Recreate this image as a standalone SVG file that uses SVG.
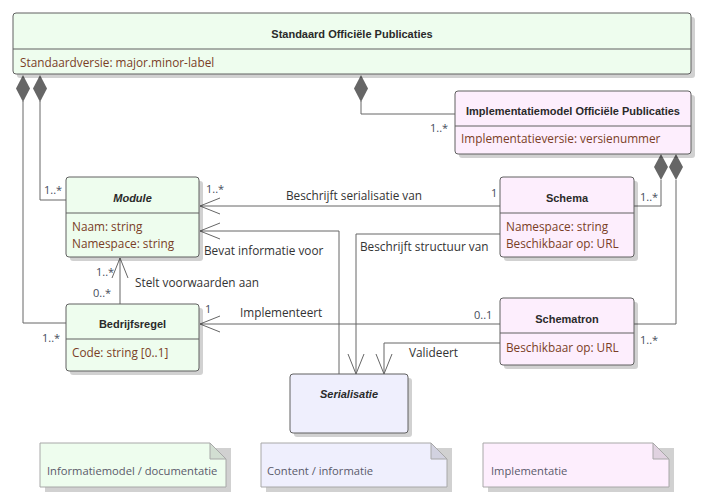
<svg xmlns="http://www.w3.org/2000/svg" width="710" height="502" viewBox="0 0 710 502">
<defs>
<style>
text{font-family:"Open Sans","Liberation Sans",Arial,sans-serif;font-size:11.8px}
.t{font-family:"Liberation Sans",Arial,sans-serif;font-size:11px;font-weight:bold;fill:#2a2a2a;text-anchor:middle}
.ti{font-family:"Liberation Sans",Arial,sans-serif;font-size:11px;font-weight:bold;font-style:italic;fill:#2a2a2a;text-anchor:middle}
.a{fill:#7a3e26}
.lb{fill:#333}
.m{fill:#454b5a;font-size:11px}
.nt{fill:#5a5a6a;font-size:11.2px}
.sh{fill:#000;opacity:0.18}
.box{stroke:#606060;stroke-width:1}
.g{fill:#eefdee}
.p{fill:#fdeefd}
.v{fill:#efeffd}
.div{stroke:#606060;stroke-width:1}
.c{fill:none;stroke:#666;stroke-width:1}
.dm{fill:#666;stroke:none}
.note{stroke:#a8a8a8;stroke-width:1}
</style>
<marker id="open" viewBox="-21 -9 22 18" refX="0" refY="0" markerWidth="22" markerHeight="18" markerUnits="userSpaceOnUse" orient="auto">
<path d="M-20,-8 L0,0 L-20,8" fill="none" stroke="#666" stroke-width="1"/>
</marker>
</defs>
<rect width="710" height="502" fill="#fff"/>

<g id="connectors">
<path class="c" d="M23,101 V323 H66"/>
<path class="c" d="M40,101 V200 H66"/>
<path class="c" d="M361,101 V114 H455"/>
<path class="c" d="M661,180 V206 H634"/>
<path class="c" d="M676,180 V324 H634"/>
<path class="dm" d="M23,75 L30,88.5 L23,102 L16,88.5 Z"/>
<path class="dm" d="M40,75 L47,88.5 L40,102 L33,88.5 Z"/>
<path class="dm" d="M361,75 L368,88.5 L361,102 L354,88.5 Z"/>
<path class="dm" d="M661,154 L668,167 L661,180 L654,167 Z"/>
<path class="dm" d="M676,154 L683,167 L676,180 L669,167 Z"/>
<path class="c" d="M500,206 H200" marker-end="url(#open)"/>
<path class="c" d="M339,374 V231 H200" marker-end="url(#open)"/>
<path class="c" d="M500,234 H356 V374" marker-end="url(#open)"/>
<path class="c" d="M500,324 H200" marker-end="url(#open)"/>
<path class="c" d="M500,343 H384 V374" marker-end="url(#open)"/>
<path class="c" d="M120,304 V258" marker-end="url(#open)"/>
<text class="lb" x="286" y="200">Beschrijft serialisatie van</text>
<text class="lb" x="204" y="255">Bevat informatie voor</text>
<text class="lb" x="360" y="251">Beschrijft structuur van</text>
<text class="lb" x="135" y="287">Stelt voorwaarden aan</text>
<text class="lb" x="240" y="317">Implementeert</text>
<text class="lb" x="409" y="357">Valideert</text>
<text class="m" x="491" y="197">1</text>
<text class="m" x="206" y="193">1..*</text>
<text class="m" x="96" y="276">1..*</text>
<text class="m" x="93" y="297">0..*</text>
<text class="m" x="205" y="313">1</text>
<text class="m" x="474" y="319">0..1</text>
<text class="m" x="44" y="194">1..*</text>
<text class="m" x="42" y="342">1..*</text>
<text class="m" x="430" y="132">1..*</text>
<text class="m" x="640" y="201">1..*</text>
<text class="m" x="640" y="344">1..*</text>
</g>

<g id="standaard">
<rect class="sh" x="17" y="17" width="678" height="61" rx="3"/>
<rect class="box g" x="13" y="13" width="678" height="61" rx="3"/>
<line class="div" x1="13" y1="49" x2="691" y2="49"/>
<text class="t" x="352" y="38">Standaard Officiële Publicaties</text>
<text class="a" x="20" y="67">Standaardversie: major.minor-label</text>
</g>

<g id="implementatiemodel">
<rect class="sh" x="459" y="95" width="236" height="63" rx="3"/>
<rect class="box p" x="455" y="91" width="236" height="63" rx="3"/>
<line class="div" x1="455" y1="126" x2="691" y2="126"/>
<text class="t" x="573" y="115">Implementatiemodel Officiële Publicaties</text>
<text class="a" x="461" y="143">Implementatieversie: versienummer</text>
</g>

<g id="module">
<rect class="sh" x="70" y="181" width="133" height="80" rx="3"/>
<rect class="box g" x="66" y="177" width="133" height="80" rx="3"/>
<line class="div" x1="66" y1="213" x2="199" y2="213"/>
<text class="ti" x="132.5" y="202">Module</text>
<text class="a" x="72" y="231">Naam: string</text>
<text class="a" x="72" y="248">Namespace: string</text>
</g>

<g id="bedrijfsregel">
<rect class="sh" x="70" y="308" width="133" height="67" rx="3"/>
<rect class="box g" x="66" y="304" width="133" height="67" rx="3"/>
<line class="div" x1="66" y1="339" x2="199" y2="339"/>
<text class="t" x="132.5" y="328">Bedrijfsregel</text>
<text class="a" x="72" y="357">Code: string [0..1]</text>
</g>

<g id="schema">
<rect class="sh" x="504" y="181" width="134" height="80" rx="3"/>
<rect class="box p" x="500" y="177" width="134" height="80" rx="3"/>
<line class="div" x1="500" y1="213" x2="634" y2="213"/>
<text class="t" x="567" y="202">Schema</text>
<text class="a" x="506" y="231">Namespace: string</text>
<text class="a" x="506" y="248">Beschikbaar op: URL</text>
</g>

<g id="schematron">
<rect class="sh" x="504" y="302" width="134" height="67" rx="3"/>
<rect class="box p" x="500" y="298" width="134" height="67" rx="3"/>
<line class="div" x1="500" y1="333" x2="634" y2="333"/>
<text class="t" x="567" y="323">Schematron</text>
<text class="a" x="506" y="352">Beschikbaar op: URL</text>
</g>

<g id="serialisatie">
<rect class="sh" x="294" y="378" width="118" height="59" rx="3"/>
<rect class="box v" x="290" y="374" width="118" height="59" rx="3"/>
<text class="ti" x="349" y="398">Serialisatie</text>
</g>

<g id="note-informatiemodel">
<path class="sh" d="M45,448 H231 V492 H45 Z"/>
<path class="note" fill="#eefdee" d="M40,443 H210 L226,459 V487 H40 Z"/>
<path class="note" fill="#d2ded2" d="M210,443 V459 H226 Z"/>
<text class="nt" x="47" y="475">Informatiemodel / documentatie</text>
</g>

<g id="note-content">
<path class="sh" d="M266,448 H452 V492 H266 Z"/>
<path class="note" fill="#efeffd" d="M261,443 H431 L447,459 V487 H261 Z"/>
<path class="note" fill="#d2d2e0" d="M431,443 V459 H447 Z"/>
<text class="nt" x="267" y="475">Content / informatie</text>
</g>

<g id="note-implementatie">
<path class="sh" d="M488,448 H674 V492 H488 Z"/>
<path class="note" fill="#fdeefd" d="M483,443 H653 L669,459 V487 H483 Z"/>
<path class="note" fill="#e0d2e0" d="M653,443 V459 H669 Z"/>
<text class="nt" x="491" y="475">Implementatie</text>
</g>
</svg>
